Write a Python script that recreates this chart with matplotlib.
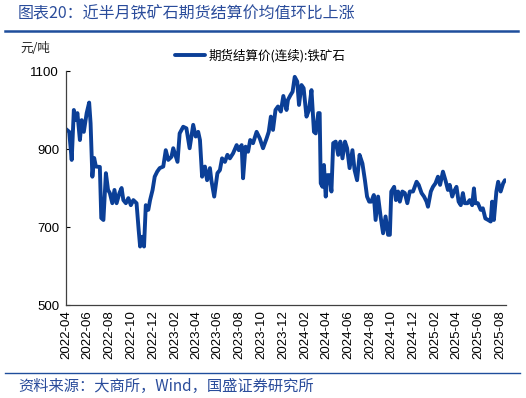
import matplotlib
matplotlib.use("Agg")
import matplotlib.pyplot as plt
import matplotlib.dates as mdates
from matplotlib.lines import Line2D
import pandas as pd

plt.rcParams['font.family'] = ['Noto Sans CJK SC', 'DejaVu Sans']

# ---- data ----
dates = [
    "2022-04-01", "2022-04-10", "2022-04-17", "2022-04-23", "2022-04-28", "2022-05-03", "2022-05-10",
    "2022-05-15", "2022-05-21", "2022-05-29", "2022-06-05", "2022-06-09", "2022-06-14", "2022-06-19",
    "2022-06-24", "2022-07-05", "2022-07-09", "2022-07-15", "2022-07-22", "2022-07-28", "2022-08-02",
    "2022-08-09", "2022-08-15", "2022-08-21", "2022-08-29", "2022-09-04", "2022-09-09", "2022-09-16",
    "2022-09-23", "2022-09-30", "2022-10-07", "2022-10-16", "2022-10-22", "2022-10-26", "2022-11-01",
    "2022-11-06", "2022-11-11", "2022-11-18", "2022-11-23", "2022-11-30", "2022-12-06", "2022-12-13",
    "2022-12-20", "2022-12-30", "2023-01-06", "2023-01-13", "2023-01-22", "2023-01-27", "2023-02-08",
    "2023-02-14", "2023-02-24", "2023-03-05", "2023-03-14", "2023-03-24", "2023-03-31", "2023-04-07",
    "2023-04-12", "2023-04-18", "2023-04-26", "2023-05-02", "2023-05-10", "2023-05-14", "2023-05-22",
    "2023-05-31", "2023-06-07", "2023-06-13", "2023-06-21", "2023-06-28", "2023-07-05", "2023-07-14",
    "2023-07-24", "2023-07-30", "2023-08-07", "2023-08-11", "2023-08-18", "2023-08-25", "2023-08-31",
    "2023-09-08", "2023-09-18", "2023-09-27", "2023-10-06", "2023-10-16", "2023-10-22", "2023-10-28",
    "2023-11-03", "2023-11-10", "2023-11-17", "2023-11-25", "2023-12-02", "2023-12-11", "2023-12-15",
    "2023-12-22", "2023-12-28", "2024-01-03", "2024-01-10", "2024-01-15", "2024-01-22", "2024-01-28",
    "2024-02-05", "2024-02-12", "2024-02-19", "2024-02-26", "2024-03-02", "2024-03-09", "2024-03-13",
    "2024-03-16", "2024-03-21", "2024-03-25", "2024-03-30", "2024-04-04", "2024-04-10", "2024-04-15",
    "2024-04-20", "2024-04-27", "2024-05-04", "2024-05-10", "2024-05-16", "2024-05-23", "2024-05-29",
    "2024-06-05", "2024-06-13", "2024-06-19", "2024-06-26", "2024-07-03", "2024-07-11", "2024-07-18",
    "2024-07-24", "2024-07-30", "2024-08-05", "2024-08-12", "2024-08-17", "2024-08-24", "2024-08-31",
    "2024-09-07", "2024-09-14", "2024-09-21", "2024-09-26", "2024-09-30", "2024-10-08", "2024-10-13",
    "2024-10-19", "2024-10-24", "2024-10-31", "2024-11-07", "2024-11-14", "2024-11-21", "2024-11-30",
    "2024-12-10", "2024-12-16", "2024-12-24", "2024-12-31", "2025-01-07", "2025-01-11", "2025-01-19",
    "2025-01-25", "2025-02-01", "2025-02-08", "2025-02-14", "2025-02-22", "2025-03-01", "2025-03-08",
    "2025-03-13", "2025-03-20", "2025-03-25", "2025-04-01", "2025-04-07", "2025-04-13", "2025-04-19",
    "2025-04-24", "2025-05-02", "2025-05-08", "2025-05-15", "2025-05-20", "2025-05-24", "2025-05-31",
    "2025-06-08", "2025-06-14", "2025-06-21", "2025-06-29", "2025-07-06", "2025-07-10", "2025-07-15",
    "2025-07-22", "2025-07-27", "2025-08-03", "2025-08-10", "2025-08-15",
]
prices = [
    951, 944, 872, 1000, 974, 992, 923,
    974, 944, 992, 1019, 966, 829, 877,
    855, 854, 723, 718, 838, 795, 787,
    761, 795, 761, 787, 800, 769, 761,
    774, 756, 769, 761, 692, 650, 675,
    650, 756, 744, 769, 795, 829, 842,
    851, 855, 897, 872, 880, 902, 867,
    940, 957, 953, 902, 962, 932, 944,
    923, 829, 855, 820, 851, 820, 778,
    838, 846, 876, 867, 885, 876, 889,
    910, 897, 910, 825, 906, 893, 923,
    915, 944, 927, 902, 927, 944, 983,
    949, 1000, 1009, 996, 1036, 1000, 1026,
    1038, 1047, 1085, 1073, 1013, 1064, 1056,
    983, 1000, 1051, 944, 940, 992, 992,
    812, 803, 859, 778, 833, 833, 791,
    915, 919, 885, 919, 876, 919, 902,
    851, 897, 846, 820, 885, 863, 820,
    778, 765, 765, 782, 718, 778, 727,
    684, 727, 680, 680, 791, 803, 769,
    791, 765, 791, 787, 761, 791, 791,
    816, 808, 787, 778, 765, 752, 791,
    803, 812, 829, 808, 842, 820, 795,
    808, 778, 791, 803, 765, 756, 787,
    761, 761, 769, 756, 799, 761, 761,
    744, 748, 722, 718, 714, 765, 718,
    791, 816, 791, 812, 820,
]
series_name = "期货结算价(连续):铁矿石"
unit_label = "元/吨"
title_text = "图表20：近半月铁矿石期货结算价均值环比上涨"
source_text = "资料来源：大商所，Wind，国盛证券研究所"
y_ticks = [500, 700, 900, 1100]

BLUE = "#0B3F97"
TXT_BLUE = "#2A4C9B"

df = pd.DataFrame({"date": pd.to_datetime(dates), "price": prices})

fig = plt.figure(figsize=(5.26, 3.98), dpi=100)
W, H = 526, 398
ax = fig.add_axes([66 / W, 1 - 305 / H, (506 - 66) / W, (305 - 71) / H])

ax.plot(df["date"], df["price"], color=BLUE, lw=2.8, solid_joinstyle="round",
        solid_capstyle="round", label=series_name)

ax.set_ylim(500, 1100)
ax.set_yticks(y_ticks)
ax.set_xlim(pd.Timestamp("2022-04-01"), pd.Timestamp("2025-08-18"))
ax.xaxis.set_major_locator(mdates.MonthLocator(bymonth=[2, 4, 6, 8, 10, 12]))
ax.xaxis.set_major_formatter(mdates.DateFormatter("%Y-%m"))

for lab in ax.get_xticklabels():
    lab.set_rotation(90)
ax.tick_params(axis="x", length=0, pad=4, labelsize=9.5)
ax.tick_params(axis="y", direction="in", length=3, pad=5, labelsize=9.5)
for lab in ax.get_xticklabels() + ax.get_yticklabels():
    lab.set_fontfamily(["Liberation Sans", "DejaVu Sans"])

for s in ["top", "right"]:
    ax.spines[s].set_visible(False)
for s in ["left", "bottom"]:
    ax.spines[s].set_color("#404040")
    ax.spines[s].set_linewidth(0.9)

# legend
ax.legend(loc="center left", bbox_to_anchor=(175 / W, 1 - 56 / H), bbox_transform=fig.transFigure,
          frameon=False, fontsize=9, handlelength=2.4, handletextpad=0.3, borderpad=0, borderaxespad=0)

# unit label
fig.text(20 / W, 1 - 48 / H, unit_label, fontsize=9, ha="left", va="center", color="#222222")

# title and source
fig.text(18 / W, 1 - 14 / H, title_text, fontsize=11.5, ha="left", va="center", color=TXT_BLUE,
         style="italic")
fig.text(18 / W, 1 - 386 / H, source_text, fontsize=11, ha="left", va="center", color=TXT_BLUE,
         style="italic")

# horizontal rules
fig.add_artist(Line2D([5 / W, 518 / W], [1 - 31 / H, 1 - 31 / H], color="#1F4E9C", lw=1.8,
                      transform=fig.transFigure))
fig.add_artist(Line2D([5 / W, 520 / W], [1 - 372.5 / H, 1 - 372.5 / H], color="#1F4E9C", lw=1.0,
                      transform=fig.transFigure))

fig.savefig("out.png", dpi=100)
